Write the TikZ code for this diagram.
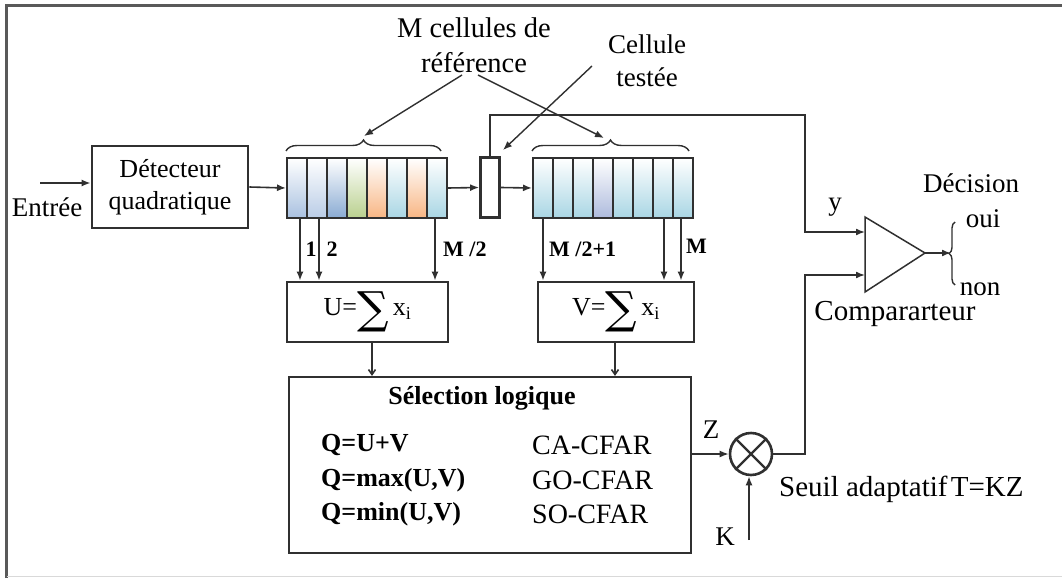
\documentclass[tikz,border=0pt]{standalone}
\usepackage{fontspec}
\setmainfont{Liberation Serif}
\newfontfamily\symfont{DejaVu Serif}
\usetikzlibrary{arrows.meta,decorations.pathreplacing,calc}
\definecolor{cbl}{HTML}{A9C1E0}
\definecolor{cbl2}{HTML}{B9CCE6}
\definecolor{cbd}{HTML}{8AABD3}
\definecolor{cgr}{HTML}{B9D08E}
\definecolor{cor}{HTML}{F8B684}
\definecolor{ccy}{HTML}{A9D6E4}
\definecolor{clv}{HTML}{AEBBDD}
\definecolor{ink}{HTML}{303030}
\newcommand{\bigsum}{\raisebox{-0.3em}{\scalebox{1.7}{\symfont ∑}}}
\tikzset{
  conn/.style={draw=ink, line width=1.6pt},
  arr/.style={conn, -{Latex[length=9pt,width=7pt]}},
  sarr/.style={conn, -{Straight Barb[length=5pt,width=7pt]}},
  box/.style={draw=ink, line width=2.8pt, rectangle, inner sep=0pt},
  big/.style={font=\fontsize{27}{31}\selectfont, inner sep=0pt},
  bigger/.style={font=\fontsize{29}{31}\selectfont, inner sep=0pt},
  mid/.style={font=\fontsize{26}{32}\selectfont, inner sep=0pt},
  num/.style={font=\fontsize{22}{24}\selectfont\bfseries, inner sep=0pt},
  qbold/.style={font=\fontsize{26}{30}\selectfont\bfseries, inner sep=0pt, anchor=west},
  qreg/.style={font=\fontsize{28}{30}\selectfont, inner sep=0pt, anchor=west},
  cbrace/.style={draw=ink, line width=1.4pt, decorate, decoration={brace, amplitude=#1}},
}
\begin{document}
\begin{tikzpicture}[x=1pt,y=-1pt]
\useasboundingbox (0,0) rectangle (1062,578);
% frame
\draw[draw=black!65, line width=2.5pt] (6.5,578) -- (6.5,5.5) -- (1062,5.5);
\draw[draw=black!15, line width=1.5pt] (6.5,576.5) -- (1062,576.5);

% input
\node[big] (entree) at (47,207) {Entrée};
\coordinate (in) at (40,183);
\node[box, minimum width=156pt, minimum height=82pt, mid, align=center] (det) at (170,187) {Détecteur\\quadratique};
\draw[arr] (in) -- (in -| det.west);

% left register
\foreach \i/\c in {0/cbl,1/cbl2,2/cbd,3/cgr,4/cor,5/ccy,6/cor,7/ccy}
  \path[top color=white, bottom color=\c] (287+20*\i,158) rectangle ++(20,60);
\foreach \i in {1,...,7}
  \draw[draw=ink, line width=1.5pt] (287+20*\i,158) -- (287+20*\i,218);
\node[box, line width=2pt, minimum width=160pt, minimum height=60pt] (regL) at (367,188) {};

% tested cell
\node[box, line width=2.8pt, minimum width=19pt, minimum height=60pt] (test) at (490,187.5) {};

% right register
\foreach \i/\c in {0/ccy,1/ccy,2/ccy,3/clv,4/ccy,5/ccy,6/ccy,7/ccy}
  \path[top color=white, bottom color=\c] (533+20*\i,158) rectangle ++(20,60);
\foreach \i in {1,...,7}
  \draw[draw=ink, line width=1.5pt] (533+20*\i,158) -- (533+20*\i,218);
\node[box, line width=2pt, minimum width=160pt, minimum height=60pt] (regR) at (613,188) {};

\draw[arr] (det.east) -- (regL.west);
\draw[arr] (regL.east) -- (test.west);
\draw[arr] (test.east) -- (regR.west);

% braces
\draw[cbrace=11pt] ([yshift=6pt]regL.north west) -- ([xshift=-7pt,yshift=6pt]regL.north east);
\draw[cbrace=11pt] ([yshift=6pt]regR.north west) -- ([xshift=-5pt,yshift=6pt]regR.north east);

% labels at top
\node[big, align=center, font=\fontsize{28.5}{35}\selectfont] (mref) at (474,45) {M cellules de\\référence};
\node[big, align=center, font=\fontsize{27}{33}\selectfont] (ctest) at (647,61) {Cellule\\testée};
\coordinate (mrefA) at (462,75);
\coordinate (mrefB) at (478,75);
\coordinate (braceL) at (364,136);
\coordinate (braceR) at (604,138);
\coordinate (ctestA) at (592,66);
\coordinate (testTR) at (503,150);
\draw[arr, line width=1.4pt] (mrefA) -- (braceL);
\draw[arr, line width=1.4pt] (mrefB) -- (braceR);
\draw[arr, line width=1.4pt] (ctestA) -- (testTR);

% sum boxes
\node[box, minimum width=161pt, minimum height=60pt, font=\fontsize{26}{30}\selectfont] (U) at (367.5,312) {U=\bigsum\,x\textsubscript{i}};
\node[box, minimum width=156pt, minimum height=60pt, font=\fontsize{26}{30}\selectfont] (V) at (616,312) {V=\bigsum\,x\textsubscript{i}};

\foreach \dx/\nm in {14/a,33/b,149/c}
  \draw[arr] ([xshift=\dx pt]regL.south west) -- ([xshift=\dx pt]regL.south west |- U.north);
\foreach \dx/\nm in {11/a,132/b,149/c}
  \draw[arr] ([xshift=\dx pt]regR.south west) -- ([xshift=\dx pt]regR.south west |- V.north);

\node[num] (n1) at (311,249) {1};
\node[num] (n2) at (332,249) {2};
\node[num, anchor=west] (nm2) at (443,249) {M /2};
\node[num, anchor=west] (nm21) at (549,249) {M /2+1};
\node[num, anchor=west] (nM) at (686,246) {M};

% selection box
\node[box, line width=2.2pt, minimum width=402pt, minimum height=176pt] (sel) at (490,465) {};
\node[font=\fontsize{26}{30}\selectfont\bfseries, inner sep=0pt] (seltitle) at (482,398) {Sélection logique};
\node[qbold] (q1) at (321,445) {Q=U+V};
\node[qbold] (q2) at (321,480) {Q=max(U,V)};
\node[qbold] (q3) at (321,514) {Q=min(U,V)};
\node[qreg] (c1) at (532,445) {CA-CFAR};
\node[qreg] (c2) at (532,480) {GO-CFAR};
\node[qreg] (c3) at (532,514) {SO-CFAR};

\draw[sarr] (U.south -| 372,0) -- (sel.north -| 372,0);
\draw[sarr] (V.south -| 615,0) -- (sel.north -| 615,0);

% multiplier
\node[circle, draw=ink, line width=2.6pt, minimum size=42pt, inner sep=0pt] (mult) at (751,454) {};
\draw[draw=ink, line width=2.4pt] (mult.north east) -- (mult.south west) (mult.north west) -- (mult.south east);
\draw[arr] (sel.east |- mult.west) -- (mult.west);
\node[big] (zl) at (711,430) {Z};
\coordinate (kin) at (749,540);
\draw[arr] (kin) -- (kin |- mult.south);
\node[big] (kl) at (725,537) {K};
\node[bigger, anchor=west] (seuil) at (779,489) {Seuil adaptatif\hspace{-4pt} T=KZ};

% comparator
\coordinate (cA) at (865,217);
\coordinate (cB) at (865,292);
\coordinate (cT) at (925,253);
\draw[draw=ink, line width=1.5pt, line join=miter] (cA) -- (cB) -- (cT) -- cycle;
\coordinate (cin1) at (865,232);
\coordinate (cin2) at (865,275);
\draw[arr] (test.north) -- (test.north |- 0,115) -- (805,115) -- (805,232) -- (cin1);
\draw[arr] (mult.east) -- (805,454) -- (805,275) -- (cin2);
\node[big] (yl) at (835,207) {y};
\node[bigger] (compl) at (895,314) {Compararteur};

% decision
\coordinate (bb) at (955,285);
\coordinate (bt) at (955,222);
\draw[arr] (cT) -- (cT -| 951,0);
\draw[cbrace=6pt] (bb) -- (bt);
\node[big] (dec) at (971,183) {Décision};
\node[big] (oui) at (983,219) {oui};
\node[big] (non) at (980,289) {non};
\end{tikzpicture}
\end{document}
